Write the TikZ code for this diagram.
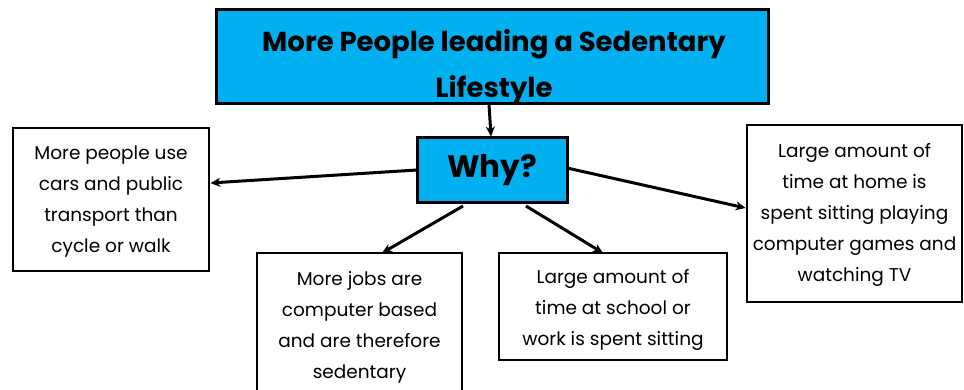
\documentclass[tikz,border=0pt]{standalone}
\usepackage{fontspec}
\setmainfont{Poppins}
\usetikzlibrary{arrows.meta}
\definecolor{boxblue}{HTML}{00B0F0}
\begin{document}
\begin{tikzpicture}[x=1pt,y=-1pt,
  bluebox/.style={draw=black,line width=3pt,fill=boxblue,inner sep=0pt},
  whitebox/.style={draw=black,line width=2.7pt,fill=white,inner sep=0pt},
  bodytext/.style={align=center,font=\fontsize{18.5}{31}\selectfont,inner sep=0pt},
  conn/.style={line width=3pt,-{Stealth[length=10pt,width=9pt]}}]
\useasboundingbox[fill=white] (0,0) rectangle (964,390);
% boxes
\node[bluebox,minimum width=552pt,minimum height=94pt] (title) at (492,57) {};
\node[font=\fontsize{27.5}{46}\selectfont\bfseries,align=center,inner sep=0pt] (titletext) at (494,67) {More People leading a Sedentary\\Lifestyle};
\node[bluebox,minimum width=150pt,minimum height=65pt,font=\fontsize{31}{36}\selectfont\bfseries] (why) at (492,170.5) {Why?};
\node[whitebox,minimum width=196pt,minimum height=143pt] (left) at (111,199.5) {};
\node[bodytext] (lefttext) at (111,202) {More people use\\cars and public\\transport than\\cycle or walk};
\node[whitebox,minimum width=205pt,minimum height=147pt] (midbox) at (359.5,326.5) {};
\node[bodytext] (midtext) at (359.5,327.5) {More jobs are\\computer based\\and are therefore\\sedentary};
\node[whitebox,minimum width=228pt,minimum height=107pt] (brbox) at (613,306.5) {};
\node[bodytext] (brtext) at (613,310) {Large amount of\\time at school or\\work is spent sitting};
\node[whitebox,minimum width=215pt,minimum height=177pt] (right) at (854.5,213.5) {};
\node[bodytext] (righttext) at (854.5,215) {Large amount of\\time at home is\\spent sitting playing\\computer games and\\watching TV};
% connectors
\coordinate (tb) at (489,104);
\coordinate (wl) at (417,170);
\coordinate (wr) at (567,168);
\coordinate (wbl) at (463,206);
\coordinate (wbr) at (526,206);
\draw[conn] (tb) -- (why.north -| 491,0);
\draw[conn] (wl) -- (left.east |- 0,183);
\draw[conn] (wr) -- (right.west |- 0,208);
\draw[conn] (wbl) -- (382,253) coordinate (midtop);
\draw[conn] (wbr) -- (603,253) coordinate (brtop);
\end{tikzpicture}
\end{document}
